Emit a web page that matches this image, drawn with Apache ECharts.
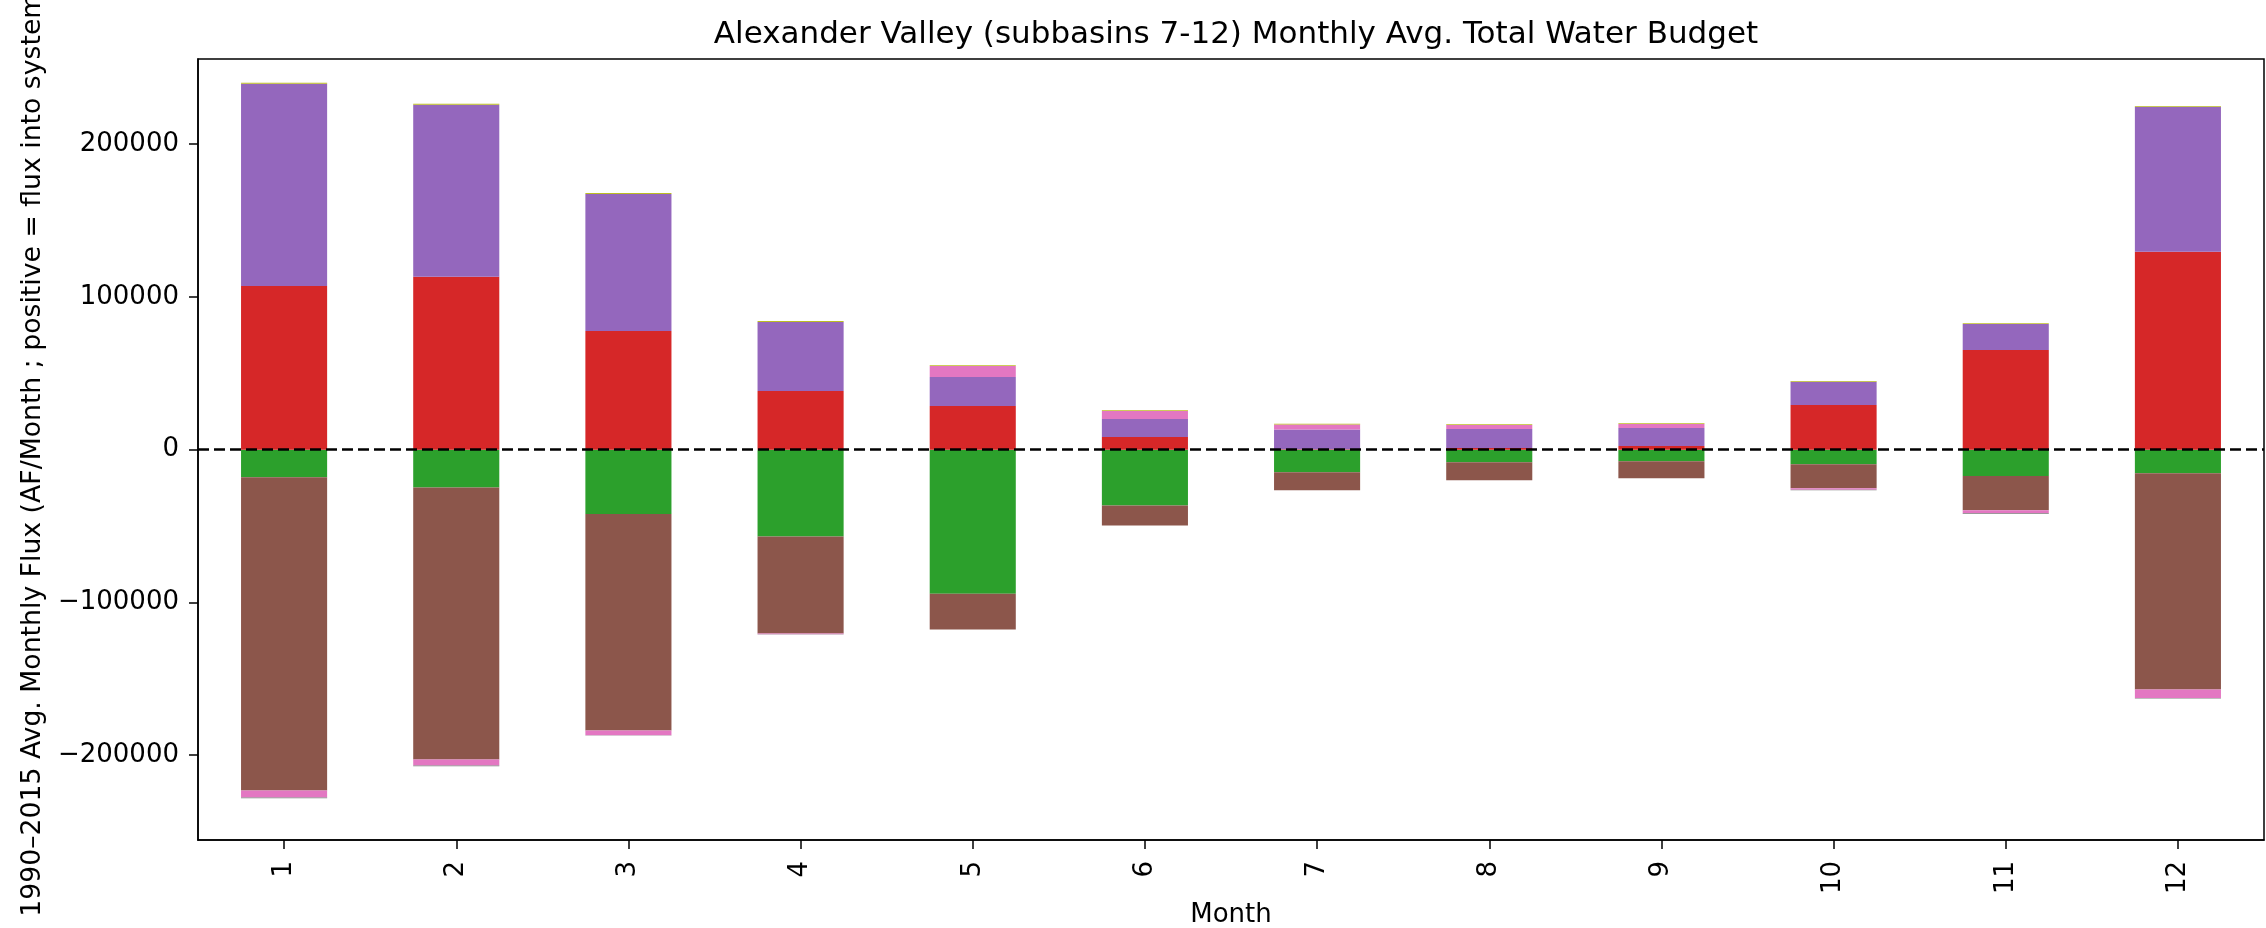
<!DOCTYPE html>
<html>
<head>
<meta charset="utf-8">
<script src="https://cdn.jsdelivr.net/npm/echarts@6/dist/echarts.min.js"></script>
<style>
html,body{margin:0;padding:0;background:#fff;}
#chart{width:2266px;height:928px;}
</style>
</head>
<body>
<div id="chart"></div>
<script>
// Categories and values (AF/Month)
const months = ['1','2','3','4','5','6','7','8','9','10','11','12'];
const greenVals  = [-18100, -24700, -42100, -56800, -94300, -36500, -14800, -8300, -7600, -9600, -17200, -15500];
const redVals    = [107200, 113100, 77700, 38400, 28600, 8300, 300, 1100, 2400, 29300, 65300, 129500];
const purpleVals = [132300, 112600, 89700, 45200, 19000, 11800, 12900, 12400, 11800, 15100, 17000, 95000];
const brownVals  = [-205000, -178100, -141700, -63500, -23400, -13100, -11800, -11800, -11100, -15700, -22500, -141500];
const pinkVals   = [-4600, -3900, -3100, -500, 7200, 5200, 3300, 2600, 2600, -900, -2000, -5500];
const grayVals   = [-500, -500, -200, -200, 0, 0, 0, 0, 0, -400, -400, -400];
const oliveVals  = [700, 700, 600, 600, 500, 500, 500, 500, 500, 500, 500, 500];
const yTicks = [-200000, -100000, 0, 100000, 200000];

const FONT = 'DejaVu Sans';
const chart = echarts.init(document.getElementById('chart'), null, {renderer: 'canvas'});

function bar(name, color, data) {
  return {
    name: name, type: 'bar', stack: 'total', data: data, barWidth: '50%',
    itemStyle: {color: color}, emphasis: {disabled: true}
  };
}

const series = [
  bar('C2', '#2ca02c', greenVals),
  bar('C3', '#d62728', redVals),
  bar('C4', '#9467bd', purpleVals),
  bar('C5', '#8c564b', brownVals),
  bar('C6', '#e377c2', pinkVals),
  bar('C7', '#7f7f7f', grayVals),
  bar('C8', '#bcbd22', oliveVals)
];
series[0].markLine = {
  silent: true, symbol: 'none', label: {show: false},
  lineStyle: {color: '#000', type: [11, 5], width: 2.5},
  data: [{yAxis: 0}]
};

chart.setOption({
  animation: false,
  backgroundColor: '#fff',
  title: {
    text: 'Alexander Valley (subbasins 7-12) Monthly Avg. Total Water Budget',
    left: 1231, top: 14, textAlign: 'center',
    textStyle: {fontFamily: FONT, fontSize: 31, fontWeight: 'normal', color: '#000'}
  },
  grid: {
    left: 198, right: 2, top: 59, bottom: 88,
    show: true, borderColor: '#000', borderWidth: 1.5,
    containLabel: false, outerBoundsMode: 'none'
  },
  xAxis: {
    type: 'category', data: months,
    name: 'Month', nameLocation: 'middle', nameGap: 58,
    nameTextStyle: {fontFamily: FONT, fontSize: 26, color: '#000'},
    axisLine: {show: true, onZero: false, lineStyle: {color: '#000', width: 1.5}},
    axisTick: {show: true, alignWithLabel: true, length: 9, lineStyle: {color: '#000', width: 1.5}},
    axisLabel: {rotate: 90, margin: 21, fontFamily: FONT, fontSize: 26, color: '#000'},
    splitLine: {show: false}
  },
  yAxis: {
    type: 'value', min: -255500, max: 255700,
    name: '1990\u20132015 Avg. Monthly Flux (AF/Month ; positive = flux into system)',
    nameLocation: 'middle', nameRotate: 90, nameGap: 151,
    nameTextStyle: {fontFamily: FONT, fontSize: 26.7, color: '#000'},
    axisLine: {show: true, lineStyle: {color: '#000', width: 1.5}},
    axisTick: {show: true, length: 9, customValues: yTicks, lineStyle: {color: '#000', width: 1.5}},
    axisLabel: {
      customValues: yTicks, margin: 19, fontFamily: FONT, fontSize: 26, color: '#000',
      formatter: v => v < 0 ? '\u2212' + Math.abs(v) : String(v)
    },
    splitLine: {show: false}
  },
  series: series
});
</script>
</body>
</html>
